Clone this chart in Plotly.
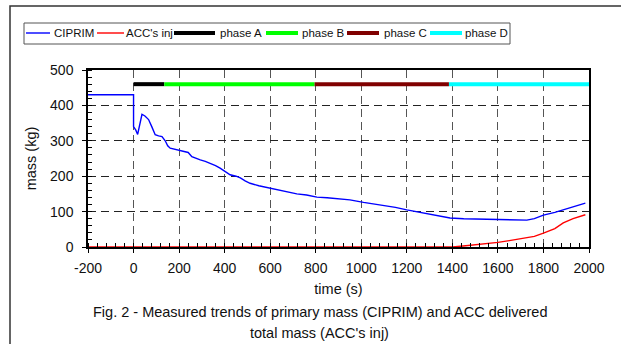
import plotly.graph_objects as go

# ---- data ----
ciprim_t = [-200, 0, 0, 10, 18, 28, 37, 50, 66, 80, 95, 110, 125, 139, 150, 161, 180, 205, 225,
            240, 256, 275, 293, 315, 336, 360, 380, 400, 424, 450, 469, 490, 512, 550, 600, 650,
            717, 760, 805, 850, 907, 950, 1010, 1050, 1083, 1150, 1200, 1250, 1303, 1350, 1390,
            1450, 1500, 1600, 1700, 1727, 1760, 1800, 1850, 1887, 1930, 1960, 1984]
ciprim_m = [430, 430, 340, 330, 318, 345, 375, 370, 360, 340, 317, 314, 312, 300, 286, 279, 276, 272, 270,
            267, 255, 250, 246, 242, 237, 230, 223, 215, 204, 200, 195, 187, 180, 173, 166, 160,
            150, 147, 141, 139, 135, 133, 126, 122, 119, 112, 105, 99, 91, 86, 82,
            80, 79, 77, 76, 76, 80, 90, 98, 105, 112, 118, 124]

acc_t = [-200, 1400, 1448, 1500, 1600, 1650, 1727, 1760, 1800, 1850, 1887, 1930, 1984]
acc_m = [0, 0, 3, 6, 13, 18, 25, 30, 39, 52, 68, 80, 91]

phase_names = ["phase A", "phase B", "phase C", "phase D"]
phase_start = [0, 135, 795, 1385]
phase_end = [135, 795, 1385, 2000]
phase_level = 460
phase_colors = ["#000000", "#00FF00", "#800000", "#00FFFF"]

x_ticks = list(range(-200, 2001, 200))
x_tick_text = [str(v).replace("\u2212", "-") for v in x_ticks]
y_ticks = list(range(0, 501, 100))

FONT = "Liberation Sans, Arial, sans-serif"
TXT = "#111"

# layout geometry (pixels)
W, H = 621, 344
ML, MR, MT, MB = 88, 32, 70, 97
PW, PH = W - ML - MR, H - MT - MB


def px(xpix):
    return (xpix - ML) / PW


def py(ypix):
    return (H - MB - ypix) / PH


fig = go.Figure()
fig.add_trace(go.Scatter(x=ciprim_t, y=ciprim_m, mode="lines", name="CIPRIM",
                         line=dict(color="#0000FF", width=1.4)))
fig.add_trace(go.Scatter(x=acc_t, y=acc_m, mode="lines", name="ACC's inj",
                         line=dict(color="#FF0000", width=1.4)))
for n, s, e, c in zip(phase_names, phase_start, phase_end, phase_colors):
    fig.add_trace(go.Scatter(x=[s, e], y=[phase_level, phase_level], mode="lines", name=n,
                             line=dict(color=c, width=4)))

axis_common = dict(
    showline=True, linecolor="#000", linewidth=1.5, mirror=True,
    showgrid=True, gridwidth=1, griddash="8px,5px",
    ticks="outside", ticklen=4, tickcolor="#000", zeroline=False,
    tickfont=dict(family=FONT, size=14, color=TXT),
)

fig.update_xaxes(range=[-200, 2000], tickvals=x_ticks, ticktext=x_tick_text, gridcolor="#555",
                 **axis_common,
                 minor=dict(ticks="inside", dtick=40, ticklen=4, tickcolor="#000", showgrid=False),
                 ticklabelstandoff=3,
                 title=dict(text="time (s)", font=dict(family=FONT, size=14.5, color=TXT), standoff=9))
fig.update_yaxes(range=[0, 500], tickvals=y_ticks, gridcolor="#222", **axis_common,
                 minor=dict(ticks="inside", dtick=20, ticklen=4, tickcolor="#000", showgrid=False),
                 ticklabelstandoff=6,
                 title=dict(text="mass (kg)", font=dict(family=FONT, size=14.5, color=TXT), standoff=10))

# ---- manual legend (matches the reference's compact layout) ----
# (name, colour, line width, sample x0, sample x1, text slot end)
legend_items = [
    ("CIPRIM", "#0000FF", 1.4, 26, 50, 97),
    ("ACC's inj", "#FF0000", 1.4, 97, 124, 174),
    ("phase A", "#000000", 4, 174, 215, 266),
    ("phase B", "#00FF00", 4, 266, 298, 347),
    ("phase C", "#800000", 4, 347, 379, 430),
    ("phase D", "#00FFFF", 4, 430, 462, 510),
]
shapes = [
    # outer figure frame (left + top only visible)
    dict(type="path", xref="paper", yref="paper",
         path=f"M {px(10)},{py(400)} L {px(10)},{py(6)} L {px(700)},{py(6)}",
         line=dict(color="#333", width=1.5)),
    # legend box
    dict(type="rect", xref="paper", yref="paper", x0=px(24), x1=px(510), y0=py(44), y1=py(23),
         line=dict(color="#555", width=1), fillcolor="white", layer="above"),
]
annotations = []
LY = 33
for name, col, lw, x0, x1, tend in legend_items:
    shapes.append(dict(type="line", xref="paper", yref="paper", x0=px(x0), x1=px(x1),
                       y0=py(LY), y1=py(LY), line=dict(color=col, width=lw), layer="above"))
    annotations.append(dict(text=name, xref="paper", yref="paper", x=px((x1 + tend) / 2 + 0.5), y=py(LY),
                            xanchor="center", yanchor="middle", showarrow=False,
                            font=dict(family=FONT, size=11.5, color=TXT)))

annotations += [
    dict(text="Fig. 2 - Measured trends of primary mass (CIPRIM) and ACC delivered",
         xref="paper", yref="paper", x=px(320), y=py(312), xanchor="center", yanchor="middle",
         showarrow=False, font=dict(family=FONT, size=14.5, color=TXT)),
    dict(text="total mass (ACC's inj)",
         xref="paper", yref="paper", x=px(319), y=py(333), xanchor="center", yanchor="middle",
         showarrow=False, font=dict(family=FONT, size=14.5, color=TXT)),
]

fig.update_layout(
    width=W, height=H,
    margin=dict(l=ML, r=MR, t=MT, b=MB, autoexpand=False),
    paper_bgcolor="white", plot_bgcolor="white",
    showlegend=False,
    font=dict(family=FONT),
    shapes=shapes,
    annotations=annotations,
)

fig.write_html("out.html")
